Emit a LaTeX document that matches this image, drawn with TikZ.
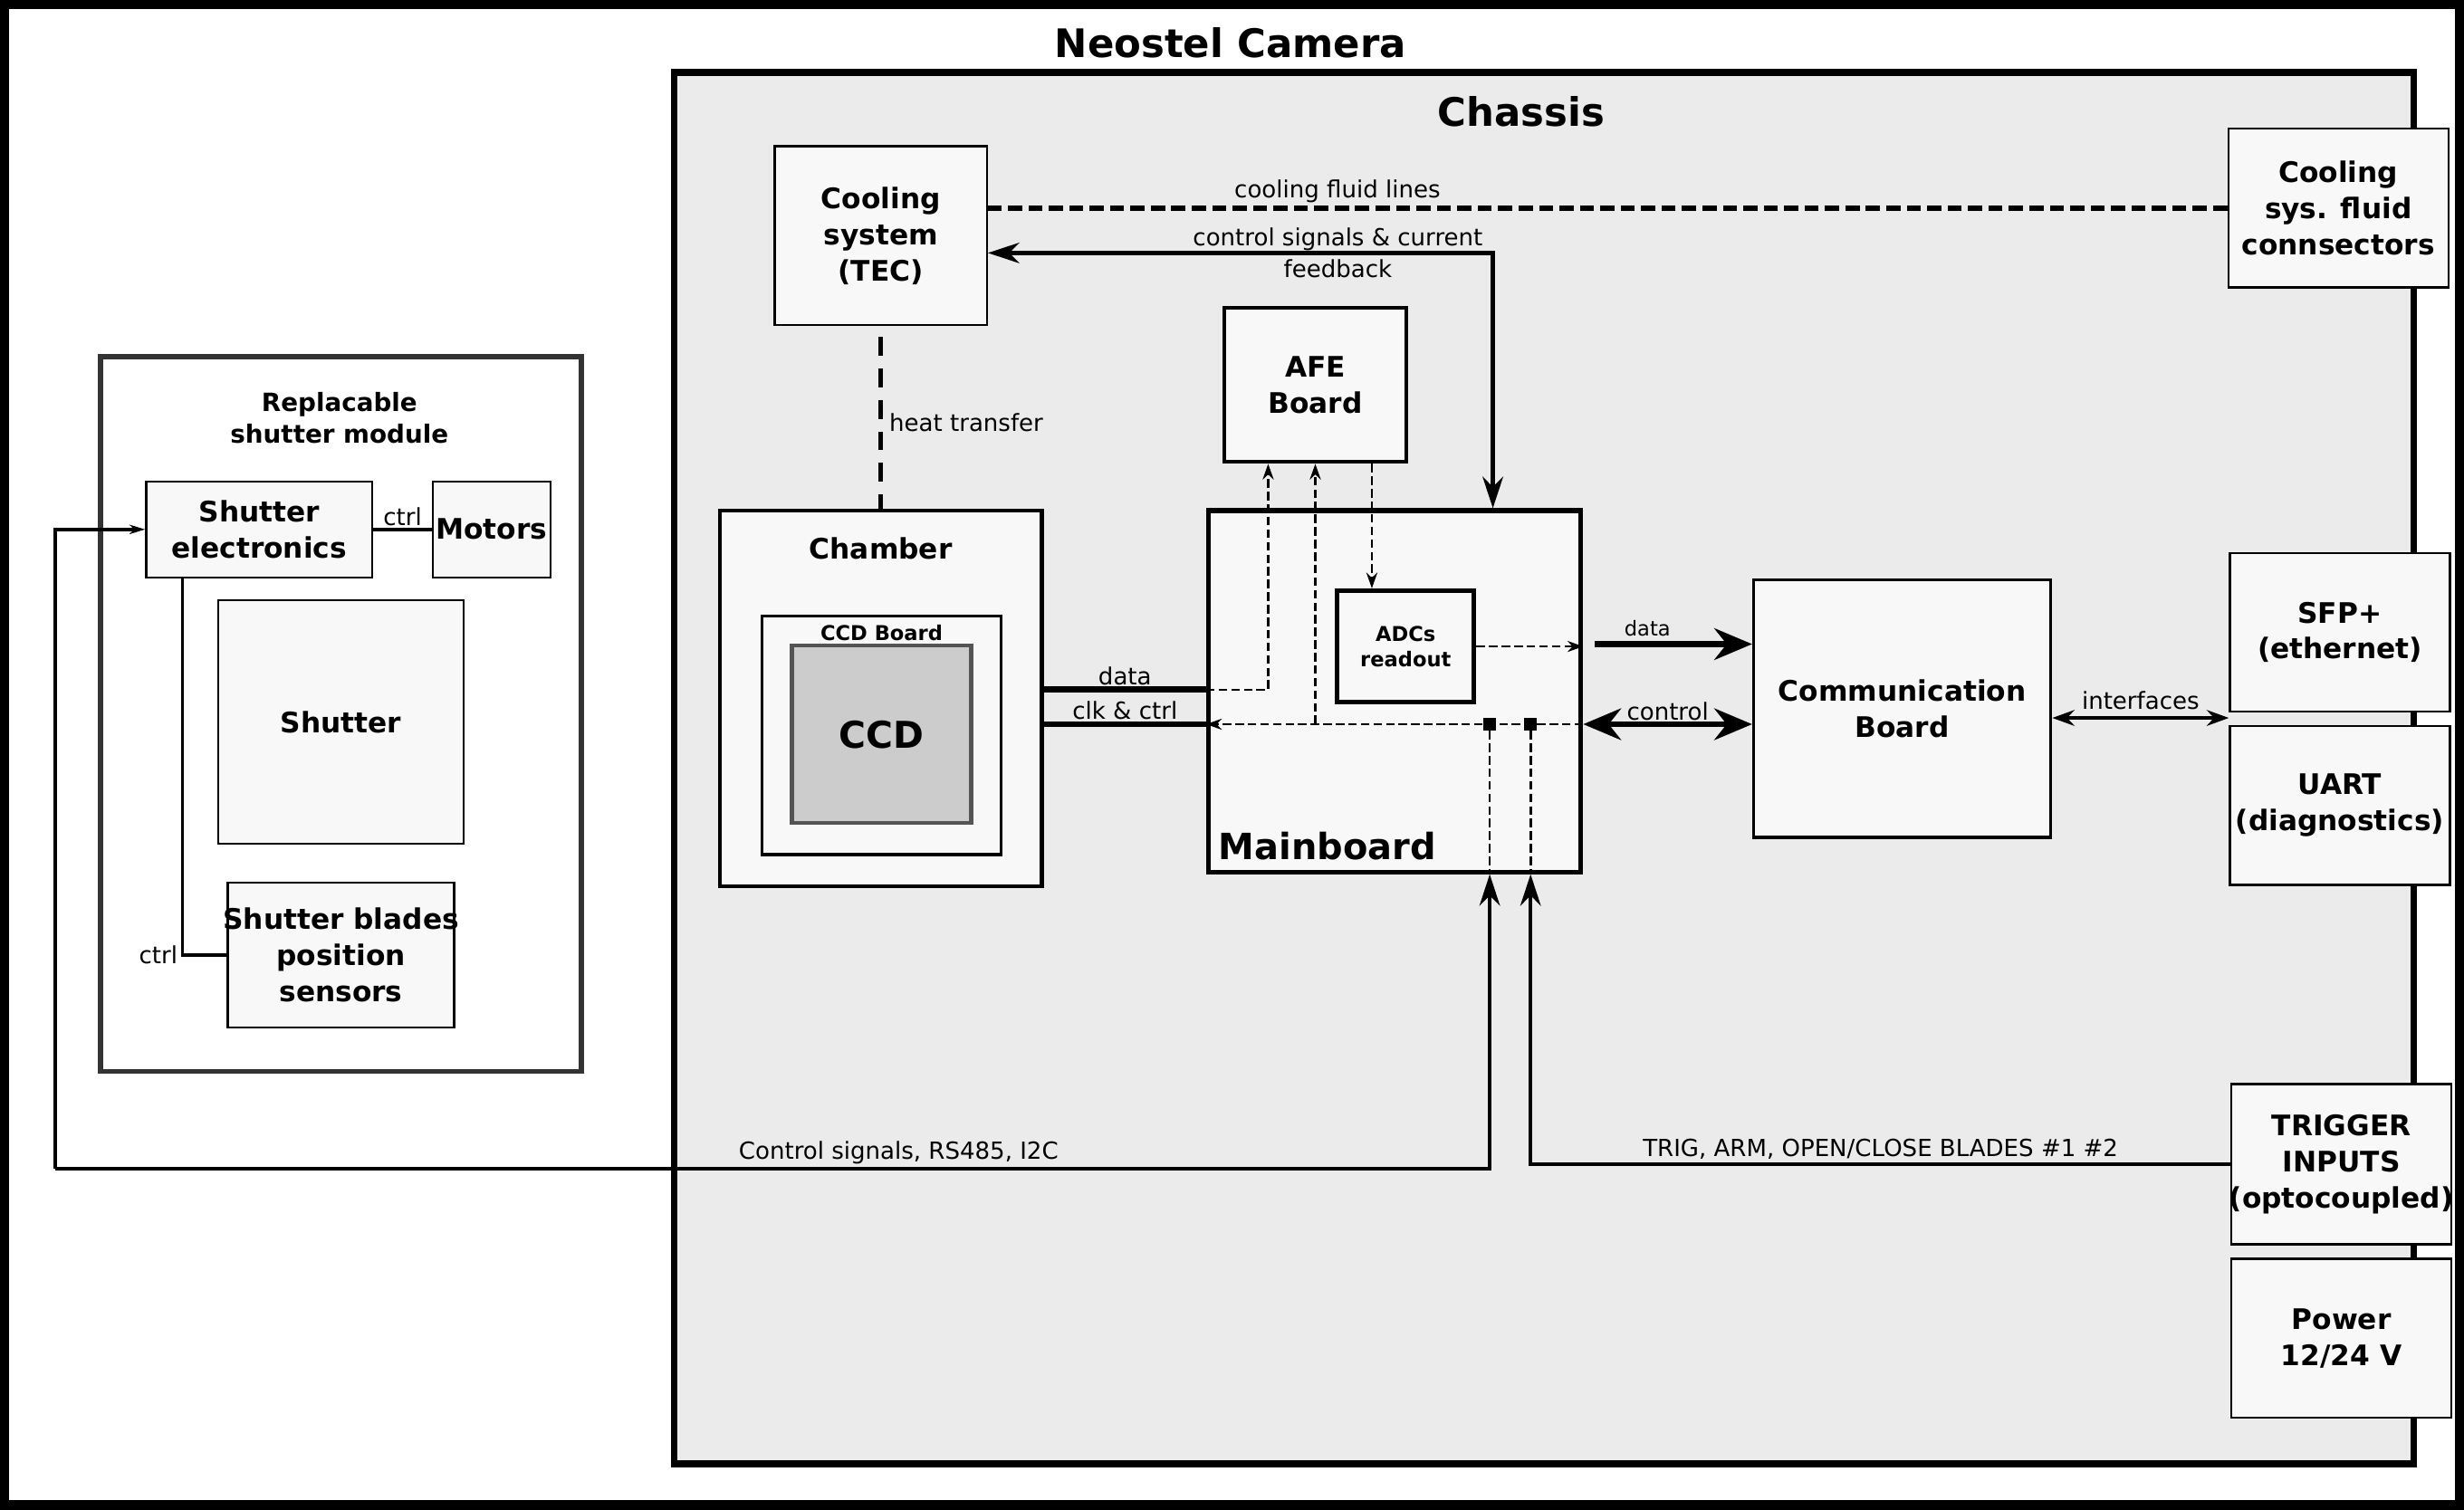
\documentclass[tikz,border=0pt]{standalone}
\usepackage{fontspec}
\setmainfont{DejaVu Sans}
\usetikzlibrary{arrows.meta, positioning}

\definecolor{chassisgray}{HTML}{EBEBEB}
\definecolor{boxfill}{HTML}{F8F8F8}
\definecolor{ccdgray}{HTML}{CCCCCC}

\tikzset{
  box/.style = {draw, line width=1.3, fill=boxfill, inner sep=0pt, align=center,
                font=\bfseries\fontsize{18}{23}\selectfont},
  board/.style = {box, line width=2.5},
  heading/.style = {font=\bfseries\fontsize{25}{30}\selectfont},
  lbl/.style = {font=\fontsize{15}{20}\selectfont, inner sep=2pt},
  wire/.style = {line width=2.5},
  bus/.style = {line width=4},
  dashwire/.style = {line width=1.5, dash pattern=on 5.5pt off 2.5pt},
  jdot/.style = {fill, minimum size=8pt, inner sep=0pt},
  smalltip/.tip = {Stealth[length=10pt, width=7pt]},
  bigtip/.tip = {Stealth[length=20pt, width=13pt]},
  fattip/.tip = {Stealth[length=24pt, width=20pt]},
  midtip/.tip = {Stealth[length=14pt, width=10pt]}
}

\begin{document}
\begin{tikzpicture}[x=1pt, y=-1pt]
\useasboundingbox (0,0) rectangle (1568,961);
\draw[line width=6] (3,3) rectangle (1565,958);

% camera body
\node[heading] (camera) at (783,27) {Neostel Camera};
\node[draw, line width=4.5, fill=chassisgray, minimum width=1107, minimum height=886] (chassis) at (982.5,489) {};
\node[heading] (chassistitle) at (968,71) {Chassis};

\node[box, minimum width=135, minimum height=114] (tec) at (560.5,150) {Cooling\\system\\(TEC)};
\node[box, minimum width=140, minimum height=101] (coolconn) at (1488,132.5) {Cooling\\sys. fluid\\connsectors};

\node[board, minimum width=205, minimum height=239] (chamber) at (560.5,444.5) {};
\node[box, draw=none, fill=none] (chambertitle) at (560.5,349) {Chamber};
\node[box, line width=2, minimum width=152, minimum height=152] (ccdboard) at (561,468) {};
\node[box, draw=none, fill=none, font=\bfseries\fontsize{13}{16}\selectfont] (ccdboardtitle) at (561,403) {CCD Board};
\node[box, draw=black!67, fill=ccdgray, line width=2.5, minimum width=114, minimum height=113,
      font=\bfseries\fontsize{23.5}{28}\selectfont] (ccd) at (561,467.5) {CCD};

\node[board, minimum width=116, minimum height=98] (afe) at (837,245) {AFE\\Board};
\node[board, line width=3, minimum width=237, minimum height=230] (mainboard) at (887.5,440) {};
\node[anchor=base west, font=\bfseries\fontsize{23}{28}\selectfont] (mblabel) at (772,547) {Mainboard};
\node[board, line width=3, minimum width=87, minimum height=71,
      font=\bfseries\fontsize{13}{16}\selectfont] (adc) at (894.5,411.5) {ADCs\\readout};

\node[box, line width=2, minimum width=189, minimum height=164] (comm) at (1210.5,451) {Communication\\Board};
\node[box, minimum width=140, minimum height=101] (sfp) at (1489,402.5) {SFP+\\(ethernet)};
\node[box, minimum width=140, minimum height=101] (uart) [below = 8pt of sfp] {UART\\(diagnostics)};
\node[box, minimum width=140, minimum height=102] (trigger) at (1490,741) {TRIGGER\\INPUTS\\\makebox[130pt]{(optocoupled)}};
\node[box, minimum width=140, minimum height=101] (power) [below = 8pt of trigger] {Power\\12/24 V};

% shutter module
\node[draw=black!80, line width=3, fill=white, minimum width=306, minimum height=455] (shuttermod) at (217,454.5) {};
\node[box, draw=none, fill=none, font=\bfseries\fontsize{16}{20}\selectfont] (shuttertitle) at (216,266) {Replacable\\shutter module};
\node[box, minimum width=144, minimum height=61] (shutterel) at (165,337) {Shutter\\electronics};
\node[box, minimum width=75, minimum height=61] (motors) [right = 37pt of shutterel] {Motors};
\node[box, minimum width=156, minimum height=155] (shutter) at (217,459.5) {Shutter};
\node[box, minimum width=144, minimum height=92] (sensors) at (217,608) {\makebox[134pt]{Shutter blades}\\position\\sensors};

% cooling
\coordinate (fb) at (950,161);
\coordinate (mbtop) at (mainboard.north -| fb);
\draw[line width=3, dash pattern=on 9pt off 4pt] (coolconn.west) -- node[lbl, above, pos=0.718] {cooling fluid lines} (coolconn.west -| tec.east);
\draw[line width=3, {bigtip}-{bigtip}] (fb -| tec.east) -- node[lbl, pos=0.693, align=center] {control signals \& current\\feedback} (fb) -- (mbtop);
\draw[line width=3, dash pattern=on 12pt off 8pt, shorten <=7pt] (tec.south) -- node[lbl, right, pos=0.53, xshift=2pt] {heat transfer} (chamber.north);

% chamber to mainboard
\coordinate (ydata) at (0,439);
\coordinate (yclk) at (0,461);
\draw[bus] (chamber.east |- ydata) -- node[lbl, above, inner sep=1pt] {data} (mainboard.west |- ydata);
\draw[bus] (chamber.east |- yclk) -- node[lbl, above, inner sep=1pt] {clk \& ctrl} (mainboard.west |- yclk);

% inside mainboard
\draw[dashwire, -{smalltip}] (mainboard.west |- ydata) -| ([xshift=-30pt]afe.south);
\draw[dashwire, -{smalltip}] (mainboard.east |- yclk) -- (mainboard.west |- yclk);
\draw[dashwire, -{smalltip}] (afe.south |- yclk) -- (afe.south);
\coordinate (afeout) at ([xshift=36pt]afe.south);
\draw[dashwire, -{smalltip}] (afeout) -- (afeout |- adc.north);
\draw[dashwire, -{smalltip}] (adc.east) -- (adc.east -| mainboard.east);
\node[jdot] (j1) at (948,461) {};
\node[jdot] (j2) at (974,461) {};
\draw[dashwire] (j1) -- (j1 |- mainboard.south);
\draw[dashwire] (j2) -- (j2 |- mainboard.south);

% mainboard to communication board
\coordinate (ymc) at (0,410);
\coordinate (yif) at (0,457);
\draw[bus, shorten <=7pt, -{fattip}] (mainboard.east |- ymc) -- node[lbl, above, pos=0.38, inner sep=3pt, font=\fontsize{13}{16}\selectfont] {data} (comm.west |- ymc);
\draw[bus, {fattip}-{fattip}] (mainboard.east |- yclk) -- node[lbl, above, inner sep=0.5pt] {control} (comm.west |- yclk);
\draw[wire, {midtip}-{midtip}] (comm.east |- yif) -- node[lbl, above, inner sep=4pt] {interfaces} (sfp.west |- yif);

% external lines
\coordinate (cs) at (35,744);
\draw[wire, -{bigtip}] (cs) -- node[lbl, above, pos=0.588] {Control signals, RS485, I2C} (cs -| j1) -- (j1 |- mainboard.south);
\draw[wire, -{Stealth[length=10pt, width=6pt]}] (cs) |- (shutterel.west);
\draw[wire, -{bigtip}] (trigger.west) -- node[lbl, above] {TRIG, ARM, OPEN/CLOSE BLADES \#1 \#2} (trigger.west -| j2) -- (j2 |- mainboard.south);

% shutter module lines
\draw[line width=2] (shutterel.east) -- node[lbl, above, inner sep=1pt] {ctrl} (motors.west);
\coordinate (seout) at ([xshift=-49pt]shutterel.south);
\draw[line width=2] (seout) |- node[lbl, left, pos=0.5] {ctrl} (sensors.west);

\end{tikzpicture}
\end{document}
